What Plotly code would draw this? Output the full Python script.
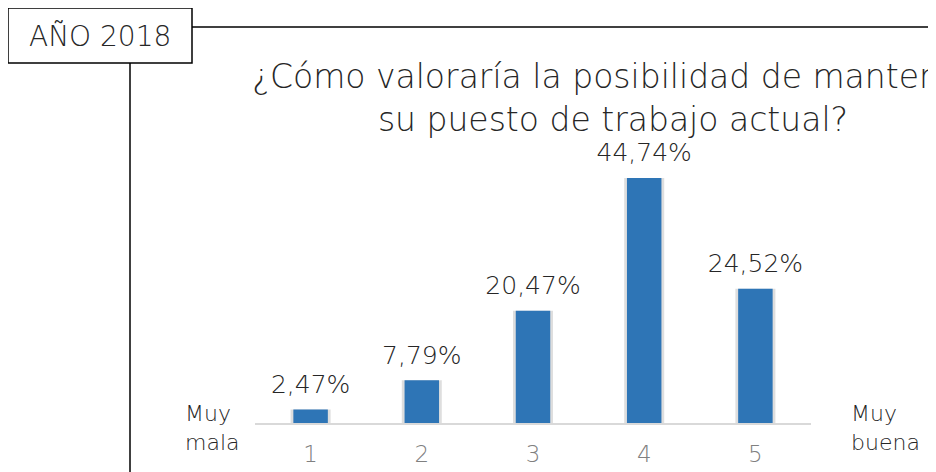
import plotly.graph_objects as go

# datos
categorias = ["1", "2", "3", "4", "5"]
porcentajes = [2.47, 7.79, 20.47, 44.74, 24.52]
etiquetas = [f"{v:.2f}%".replace(".", ",") for v in porcentajes]

# la página añade 8px de margen al cuerpo, así que la figura es algo más pequeña
OFF = 8
W, H = 936 - OFF, 472 - OFF
L, R, T, B = 247, 125, 163, 49


def px(x):
    # coordenada de pantalla -> fracción del área de trazado
    return (x - OFF - L) / (W - L - R)


def py(y):
    return (H - B - (y - OFF)) / (H - T - B)


font = "DejaVu Sans"
azul = "#2e75b6"
texto = "#262626"

fig = go.Figure()

# sombra suave de las barras
fig.add_trace(go.Bar(
    x=categorias, y=porcentajes, width=0.36,
    marker=dict(color="rgba(0,0,0,0.13)", line=dict(width=0)),
    hoverinfo="skip", showlegend=False,
))
fig.add_trace(go.Bar(
    x=categorias, y=porcentajes, width=0.31,
    marker=dict(color=azul, line=dict(width=0)),
    showlegend=False,
))
# etiquetas de valor
fig.add_trace(go.Scatter(
    x=categorias, y=porcentajes, mode="markers+text",
    text=etiquetas, textposition="top center",
    textfont=dict(family=font, size=25, color=texto, weight=200),
    marker=dict(size=15, color="rgba(0,0,0,0)"),
    cliponaxis=False, hoverinfo="skip", showlegend=False,
))

fig.update_layout(
    width=W, height=H,
    margin=dict(l=L, r=R, t=T, b=B, pad=0),
    paper_bgcolor="white", plot_bgcolor="white",
    barmode="overlay",
    font=dict(family=font, color=texto, weight=200),
    title=dict(
        text="¿Cómo valoraría la posibilidad de mantener<br>su puesto de trabajo actual?",
        xref="container", yref="container",
        x=(613 - OFF) / W, xanchor="center", y=1 - (88 - OFF) / H, yanchor="top",
        font=dict(family=font, size=33, color=texto, weight=200),
    ),
    xaxis=dict(
        showline=True, linecolor="#d9d9d9", linewidth=1.5,
        showgrid=False, zeroline=False, ticks="", automargin=False,
        ticklabelstandoff=10,
        tickfont=dict(family=font, size=23, color="#808080", weight=200),
    ),
    yaxis=dict(range=[0, 46], visible=False, automargin=False),
    shapes=[
        dict(type="rect", xref="paper", yref="paper",
             x0=px(8), x1=px(192), y0=py(8), y1=py(63),
             line=dict(color="black", width=1.5), fillcolor="white"),
        dict(type="line", xref="paper", yref="paper",
             x0=px(192), x1=px(940), y0=py(27), y1=py(27),
             line=dict(color="black", width=1.5)),
        dict(type="line", xref="paper", yref="paper",
             x0=px(130), x1=px(130), y0=py(63), y1=py(475),
             line=dict(color="black", width=1.5)),
    ],
    annotations=[
        dict(text="AÑO 2018", xref="paper", yref="paper",
             x=px(100), y=py(36), xanchor="center", yanchor="middle",
             showarrow=False,
             font=dict(family=font, size=28, color=texto, weight=200)),
        dict(text="Muy<br>mala", xref="paper", yref="paper",
             x=px(183), y=py(428), xanchor="left", yanchor="middle",
             align="left", showarrow=False,
             font=dict(family=font, size=22, color=texto, weight=200)),
        dict(text="Muy<br>buena", xref="paper", yref="paper",
             x=px(849), y=py(428), xanchor="left", yanchor="middle",
             align="left", showarrow=False,
             font=dict(family=font, size=22, color=texto, weight=200)),
    ],
)

fig.write_html("out.html")
